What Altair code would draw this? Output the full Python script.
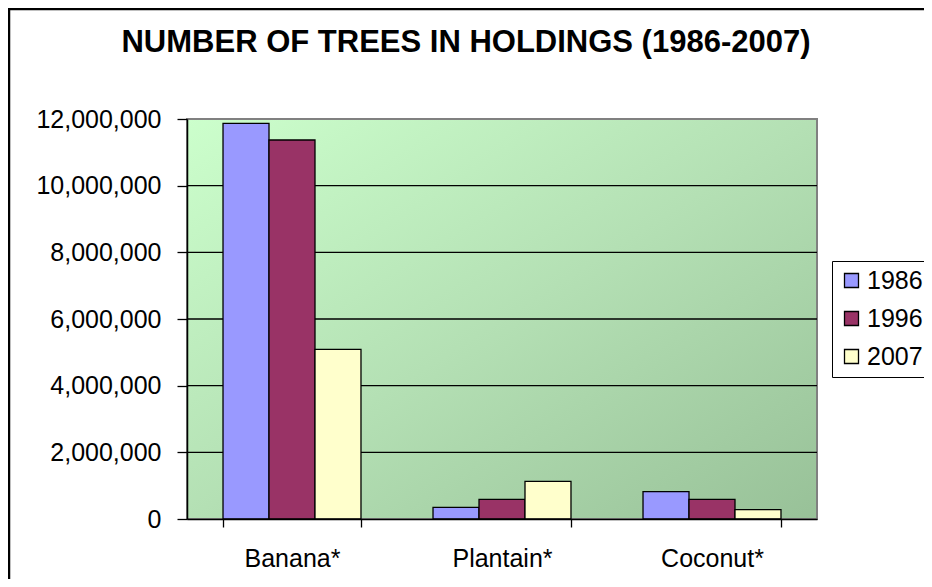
import altair as alt
import pandas as pd

crops = ["Banana*", "Plantain*", "Coconut*"]
years = ["1986", "1996", "2007"]
v1986 = [11870000, 350000, 820000]
v1996 = [11370000, 590000, 590000]
v2007 = [5090000, 1130000, 280000]
y_ticks = [0, 2000000, 4000000, 6000000, 8000000, 10000000, 12000000]
grid_values = y_ticks[1:-1]
colors = ["#9999FF", "#993366", "#FFFFCC"]
title_text = "NUMBER OF TREES IN HOLDINGS (1986-2007)"

rows = []
for crop, a, b, c in zip(crops, v1986, v1996, v2007):
    for yr, v in zip(years, (a, b, c)):
        rows.append({"crop": crop, "year": yr, "value": v})
df = pd.DataFrame(rows)

W, H = 630, 400
FONT = "Liberation Sans"

yscale = alt.Scale(domain=[0, 12000000], nice=False, zero=True)
yaxis = alt.Axis(
    values=y_ticks, format=",d", grid=False, title="",
    labelFont=FONT, labelFontSize=25, labelColor="black",
    tickColor="black", tickSize=10, tickWidth=1.3,
    domainColor="black", domainWidth=1.5, labelPadding=16, zindex=1,
)

one = pd.DataFrame({"k": [0]})

bg = alt.Chart(one).mark_rect(
    fill=alt.LinearGradient(
        gradient="linear",
        stops=[alt.GradientStop(color="#CCFFCC", offset=0),
               alt.GradientStop(color="#B4E0B4", offset=0.5),
               alt.GradientStop(color="#98C198", offset=1)],
        x1=0, y1=0, x2=1, y2=1,
    ),
    stroke="#808080", strokeWidth=2,
).encode(x=alt.value(0), x2=alt.value(W), y=alt.value(0), y2=alt.value(H))

grid = alt.Chart(pd.DataFrame({"value": grid_values})).mark_rule(
    color="black", strokeWidth=1.3
).encode(y=alt.Y("value:Q", scale=yscale, axis=yaxis))

bars = alt.Chart(df).mark_bar(stroke="black", strokeWidth=1.3).encode(
    x=alt.X("crop:N", sort=crops,
            scale=alt.Scale(paddingInner=0.343, paddingOuter=0.1715),
            axis=alt.Axis(title="", labelFont=FONT, labelFontSize=25, labelColor="black",
                          labelAngle=0, tickBand="extent", tickSize=8, tickColor="black",
                          tickWidth=1.3, domainColor="black", domainWidth=1.5,
                          labelPadding=19, zindex=1)),
    xOffset=alt.XOffset("year:N", sort=years, scale=alt.Scale(paddingInner=0, paddingOuter=0)),
    y=alt.Y("value:Q", scale=yscale, axis=yaxis),
    color=alt.Color("year:N", sort=years,
                    scale=alt.Scale(domain=years, range=colors),
                    legend=alt.Legend(title=None, orient="none", legendX=645, legendY=142,
                                      strokeColor="black", fillColor="white", padding=7,
                                      labelFont=FONT, labelFontSize=25, labelColor="black",
                                      symbolType="square", symbolSize=196,
                                      symbolStrokeColor="black", symbolStrokeWidth=1.3,
                                      rowPadding=12, labelOffset=3)),
)

border = alt.Chart(one).mark_rect(
    fill="white", fillOpacity=0, stroke="black", strokeWidth=2.5
).encode(x=alt.value(-178), x2=alt.value(W + 300), y=alt.value(-110), y2=alt.value(H + 300))

chart = alt.layer(bg, grid, bars, border).properties(
    width=W, height=H,
    autosize=alt.AutoSizeParams(type="none"),
    padding={"left": 179, "top": 111, "right": 107, "bottom": 60},
    title=alt.TitleParams(text=title_text, font=FONT, fontSize=31, fontWeight="bold",
                          color="black", anchor="middle", dx=-36, offset=0, dy=75,
                          baseline="alphabetic"),
).configure_view(stroke=None).configure(background="white")

chart.save("out.html", embed_options={"renderer": "svg", "actions": False})
